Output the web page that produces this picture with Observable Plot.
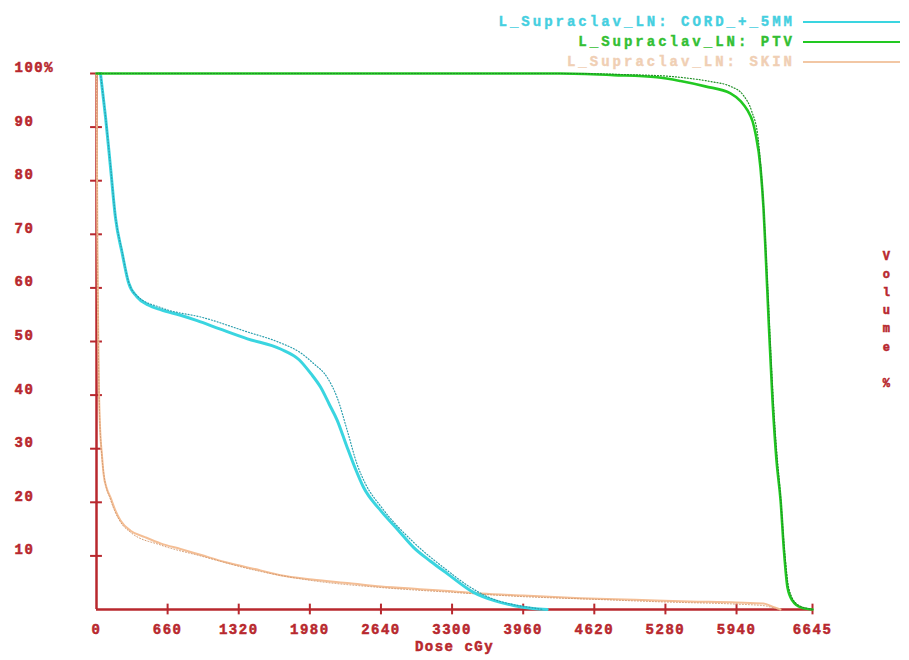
<!DOCTYPE html>
<html>
<head>
<meta charset="utf-8">
<script src="https://cdn.jsdelivr.net/npm/d3@7"></script>
<script src="https://cdn.jsdelivr.net/npm/@observablehq/plot@0.6"></script>
<style>
  body { margin: 0; background: #fff; }
  #wrap { position: relative; width: 909px; height: 660px; }
  #legend { position: absolute; top: 12px; right: 9px; font-family: "Liberation Mono", monospace; font-weight: bold; font-size: 14px; letter-spacing: 3px; text-align: right; -webkit-text-stroke: 0.4px currentColor; }
  #legend .row { height: 20px; line-height: 20px; white-space: nowrap; }
  #legend .sw { display: inline-block; width: 97px; margin-left: 8px; border-top: 2px solid; vertical-align: middle; }
  svg text { letter-spacing: 1.5px; }
  svg g[aria-label$="tick label"] text, svg g[aria-label="text"] text { stroke: #b8282e; stroke-width: 0.5px; }
</style>
</head>
<body>
<div id="wrap">
  <div id="chart"></div>
  <div id="legend"></div>
</div>
<script>
// ---- data ----
const seriesNames = ["L_Supraclav_LN: CORD_+_5MM", "L_Supraclav_LN: PTV", "L_Supraclav_LN: SKIN"];
const xTicks = [0, 660, 1320, 1980, 2640, 3300, 3960, 4620, 5280, 5940, 6645];
const yTicks = [10, 20, 30, 40, 50, 60, 70, 80, 90, 100];

// CORD (solid) [dose cGy, volume %]
const cordSolid = [[37,100],[60,96],[84,91.8],[130,82.5],[176,73.1],[238,66.5],[297,61],[377,58.3],[480,56.8],[600,55.9],[780,54.9],[934,53.9],[1150,52.3],[1401,50.5],[1708,48.6],[1880,46.6],[1990,44],[2079,41.5],[2160,38.3],[2234,35.3],[2320,30.6],[2400,26.4],[2478,22.8],[2636,18.5],[2800,14.8],[2942,11.6],[3100,9],[3255,6.7],[3499,3.2],[3700,1.6],[3870,0.75],[4050,0.2],[4183,0]];
// CORD (dotted, second plan)
const cordDotted = [[37,100],[84,92],[130,82.8],[176,73.4],[238,66.8],[297,61.2],[377,58.5],[600,56.3],[1000,54.4],[1398,51.8],[1700,49.8],[1893,47.9],[2014,45.9],[2141,43.3],[2234,39.5],[2327,33.4],[2420,27],[2500,23.3],[2640,19.2],[2950,12.4],[3255,7.3],[3450,4.4],[3650,2.2],[3870,0.9],[4050,0.3],[4150,0]];
// PTV (solid)
const ptvSolid = [[0,100],[4300,100],[4800,99.7],[5200,99.3],[5420,98.6],[5650,97.6],[5884,96.3],[5980,94.8],[6042,93.1],[6090,91],[6116,88.8],[6162,82.5],[6190,75],[6209,67],[6240,53],[6274,39],[6310,28],[6349,20.3],[6380,11],[6413,4.1],[6460,1.6],[6534,0.4],[6645,0]];
// PTV (dotted)
const ptvDotted = [[0,100],[4400,100],[4900,99.8],[5300,99.5],[5500,99.1],[5700,98.5],[5884,97.6],[6000,96],[6080,93],[6140,88],[6175,80],[6205,70],[6230,60],[6265,45],[6300,33],[6345,22],[6390,10],[6425,4],[6500,1],[6600,0.2],[6645,0]];
// SKIN (solid)
const skinSolid = [[0,100],[4,85],[8,70],[14,55],[22,42],[35,33],[50,29],[65,25.4],[95,22.6],[130,20.9],[175,18.5],[223,16.6],[316,14.7],[450,13.5],[600,12.3],[780,11.3],[965,10.2],[1200,8.8],[1522,7.3],[1708,6.4],[2000,5.6],[2350,4.9],[2640,4.3],[3000,3.8],[3300,3.4],[3564,3.0],[3960,2.6],[4492,2.1],[5000,1.8],[5500,1.5],[5940,1.3],[6190,1.1],[6280,0.5],[6348,0]];
// SKIN (dotted)
const skinDotted = [[0,100],[5,82],[10,65],[18,48],[28,37],[45,30],[70,25],[130,20.5],[223,16.3],[316,14.4],[600,12],[965,10],[1522,7.1],[2000,5.4],[2640,4.1],[3300,3.2],[3960,2.4],[4620,1.9],[5280,1.4],[5940,1.0],[6200,0.7],[6300,0.2],[6340,0]];

// ---- styling ----
const axisRed = "#b8282e";
const cyan = "#3ad5e0", green = "#22c922", tan = "#f4be95";
const cyanDot = "#2a9fae", greenDot = "#1f8f26", tanDot = "#d49a70";

const toObj = arr => arr.map(([x, y]) => ({x, y}));

const chart = Plot.plot({
  width: 909,
  height: 660,
  marginLeft: 96,
  marginRight: 97,
  marginTop: 73,
  marginBottom: 51,
  x: {domain: [0, 6645]},
  y: {domain: [0, 100]},
  style: {fontFamily: "Liberation Mono, monospace", fontWeight: "bold", background: "#fff"},
  marks: [
    // axis lines
    Plot.ruleY([0], {stroke: axisRed, strokeWidth: 2.5}),
    Plot.ruleX([0], {stroke: axisRed, strokeWidth: 2.5}),
    // tick marks crossing the axes
    Plot.ruleX(xTicks.slice(1), {x: d => d, y1: -1, y2: 1, stroke: axisRed, strokeWidth: 2}),
    Plot.ruleY(yTicks, {y: d => d, x1: -55, x2: 55, stroke: axisRed, strokeWidth: 2}),
    // tick labels
    Plot.axisX(xTicks, {tickSize: 0, tickPadding: 15, color: axisRed, fontSize: 14, fontWeight: "bold", tickFormat: d => String(d), label: null}),
    Plot.axisY(yTicks, {tickSize: 0, tickPadding: 0, color: axisRed, fontSize: 14, fontWeight: "bold", textAnchor: "start", dx: -82, dy: -6, tickFormat: d => d === 100 ? "100%" : String(d), label: null}),
    // axis titles
    Plot.text(["Dose cGy"], {text: d => d, frameAnchor: "bottom", dy: 41, fill: axisRed, fontSize: 14, fontWeight: "bold"}),
    Plot.text(["V\no\nl\nu\nm\ne\n\n%"], {text: d => d, frameAnchor: "right", dx: 79, dy: -24, fill: axisRed, fontSize: 12, fontWeight: "bold", lineHeight: 1.52}),
    // curves
    Plot.line(toObj(skinSolid), {x: "x", y: "y", stroke: tan, strokeWidth: 2, curve: "monotone-x"}),
    Plot.line(toObj(skinDotted), {x: "x", y: "y", stroke: tanDot, strokeWidth: 1, strokeDasharray: "1,2", curve: "monotone-x"}),
    Plot.line(toObj(cordSolid), {x: "x", y: "y", stroke: cyan, strokeWidth: 3, curve: "monotone-x"}),
    Plot.line(toObj(cordDotted), {x: "x", y: "y", stroke: cyanDot, strokeWidth: 1.2, strokeDasharray: "1,2", curve: "monotone-x"}),
    Plot.line(toObj(ptvSolid), {x: "x", y: "y", stroke: green, strokeWidth: 2.6, curve: "monotone-x"}),
    Plot.line(toObj(ptvDotted), {x: "x", y: "y", stroke: greenDot, strokeWidth: 1.2, strokeDasharray: "1,2", curve: "monotone-x"})
  ]
});
document.getElementById("chart").appendChild(chart);

// legend
const legendColors = [
  {text: "#45cfe0", line: cyan},
  {text: "#33bf33", line: green},
  {text: "#f0cfb4", line: "#f2c7a4"}
];
const legend = document.getElementById("legend");
seriesNames.forEach((name, i) => {
  const row = document.createElement("div");
  row.className = "row";
  row.style.color = legendColors[i].text;
  row.textContent = name;
  const sw = document.createElement("span");
  sw.className = "sw";
  sw.style.borderColor = legendColors[i].line;
  row.appendChild(sw);
  legend.appendChild(row);
});
</script>
</body>
</html>
